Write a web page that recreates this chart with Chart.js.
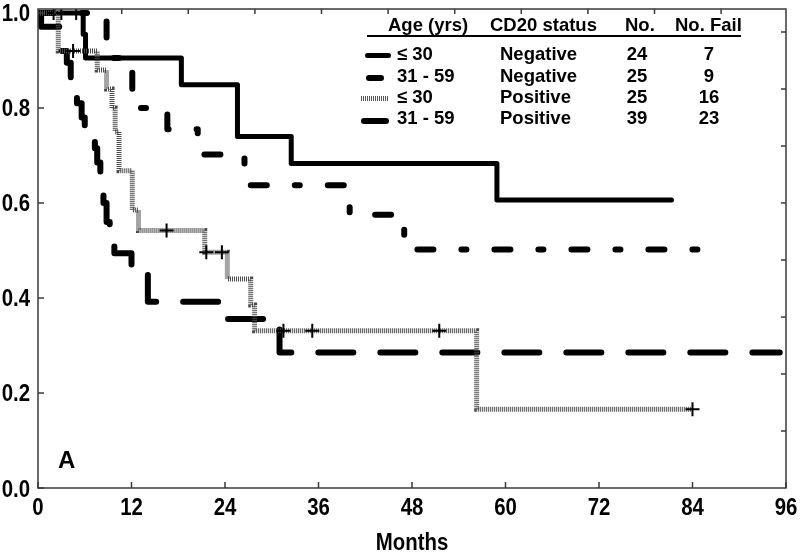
<!DOCTYPE html>
<html><head><meta charset="utf-8">
<script src="https://cdn.jsdelivr.net/npm/chart.js@4"></script>
<style>
html,body{margin:0;padding:0;background:#fff;}
#wrap{position:relative;width:800px;height:553px;overflow:hidden;background:#fff;}
canvas{position:absolute;left:0;top:0;}
.t{position:absolute;font-family:'Liberation Sans',Arial,sans-serif;font-weight:bold;font-size:18.5px;line-height:18.5px;color:#000;white-space:nowrap;}
.c{text-align:center;}
.ln{position:absolute;}
.ax{position:absolute;font-family:'Liberation Sans',Arial,sans-serif;font-weight:bold;font-size:24px;line-height:24px;color:#000;white-space:nowrap;transform:scaleX(0.85);transform-origin:50% 50%;}
</style></head><body>
<div id="wrap"><canvas id="c" width="800" height="553"></canvas><div id="overlay"></div></div>
<script>
// ---- data ----
const xTicks = [0, 12, 24, 36, 48, 60, 72, 84, 96];
const yTicks = [0, 0.2, 0.4, 0.6, 0.8, 1.0];

// Age <=30, CD20 negative (solid)
const s1Months = [0, 5.8, 6.1, 18.4, 25.6, 32.5, 58.9, 81.3];
const s1Surv   = [1, 0.955, 0.905, 0.849, 0.740, 0.683, 0.606, 0.606];

// Age 31-59, CD20 negative (long-short dash)
const s2Months = [0, 8.8, 12.1, 16.6, 20.5, 26.5, 40.0, 47.0, 86.0];
const s2Surv   = [1, 0.905, 0.800, 0.755, 0.702, 0.6375, 0.575, 0.502, 0.502];

// Age <=30, CD20 positive (gray hatched)
const s3Months = [0, 2.6, 7.6, 8.8, 9.5, 9.9, 10.4, 12.1, 12.9, 21.4, 24.3, 27.3, 27.8, 56.3, 84.0];
const s3Surv   = [1, 0.92, 0.88, 0.84, 0.80, 0.75, 0.668, 0.585, 0.542, 0.496, 0.44, 0.385, 0.331, 0.166, 0.166];
const s3CensorMonths = [2.0, 3.0, 4.9, 4.5, 16.5, 21.6, 23.6, 31.5, 35.2, 51.5, 84.0];
const s3CensorSurv   = [1, 1, 1, 0.92, 0.542, 0.496, 0.496, 0.331, 0.331, 0.331, 0.166];

// Age 31-59, CD20 positive (long dash)
const s4Months = [0, 0.4, 3.0, 3.7, 4.2, 5.0, 5.6, 6.0, 7.3, 7.6, 8.0, 8.4, 8.8, 9.2, 9.8, 12.0, 14.1, 24.0, 31.0, 95.2];
const s4Surv   = [1, 0.971, 0.92, 0.895, 0.855, 0.81, 0.78, 0.74, 0.715, 0.685, 0.645, 0.60, 0.56, 0.515, 0.494, 0.46, 0.392, 0.356, 0.285, 0.285];

// legend table
const ageGroups  = ['≤ 30', '31 - 59', '≤ 30', '31 - 59'];
const cd20Status = ['Negative', 'Negative', 'Positive', 'Positive'];
const nPatients  = [24, 25, 25, 39];
const nFail      = [7, 9, 16, 23];
const headers    = ['Age (yrs)', 'CD20 status', 'No.', 'No. Fail'];

const pts = (ms, ss) => ms.map((m, i) => ({x: m, y: ss[i]}));

// ---- overlay text (legend table, panel letter, axis title) ----
const ov = document.getElementById('overlay');
function add(html){ ov.insertAdjacentHTML('beforeend', html); }
const rowBase = [61, 82.5, 103.5, 125];
const tp = b => (b - 15.7).toFixed(1);
add(`<div class="t" style="left:388px;top:${tp(32)}px">${headers[0]}</div>`);
add(`<div class="t" style="left:490px;top:${tp(32)}px">${headers[1]}</div>`);
add(`<div class="t" style="left:625px;top:${tp(32)}px">${headers[2]}</div>`);
add(`<div class="t" style="left:675px;top:${tp(32)}px">${headers[3]}</div>`);
add(`<div class="ln" style="left:367px;top:35px;width:374px;height:2px;background:#000"></div>`);
const sampleStyles = [
  'left:365px;width:26px;height:5px;background:#000;border-radius:3px;',
  'left:366px;width:18px;height:6px;background:#000;border-radius:3px;',
  'left:361px;width:28px;height:5px;background:repeating-linear-gradient(90deg,#555 0 1px,#fff 1px 2px);',
  'left:361px;width:28px;height:6px;background:#000;border-radius:3px;'
];
const sampleY = [55, 77, 98, 120];
for (let i = 0; i < 4; i++) {
  const b = rowBase[i];
  add(`<div class="ln" style="${sampleStyles[i]}top:${(sampleY[i]-2.5).toFixed(1)}px"></div>`);
  add(`<div class="t" style="left:397px;top:${tp(b)}px">${ageGroups[i]}</div>`);
  add(`<div class="t" style="left:500px;top:${tp(b)}px">${cd20Status[i]}</div>`);
  add(`<div class="t c" style="left:612px;width:50px;top:${tp(b)}px">${nPatients[i]}</div>`);
  add(`<div class="t c" style="left:684px;width:50px;top:${tp(b)}px">${nFail[i]}</div>`);
}
add(`<div class="t" style="left:58px;top:${(470-21.7).toFixed(1)}px;font-size:24px;line-height:24px">A</div>`);
add(`<div class="ax" style="left:312px;width:200px;text-align:center;top:${(550-20.3).toFixed(1)}px">Months</div>`);

// ---- chart ----
const labelFont = "bold 24px 'Liberation Sans', Arial, sans-serif";

const framePlugin = {
  id: 'frame',
  afterDraw(chart) {
    const {ctx, chartArea: a, scales: {x, y}} = chart;
    ctx.save();
    ctx.strokeStyle = '#3a3a3a';
    ctx.lineWidth = 1.5;
    ctx.strokeRect(a.left, a.top, a.right - a.left, a.bottom - a.top);
    ctx.beginPath();
    x.ticks.forEach(t => { const px = x.getPixelForValue(t.value); ctx.moveTo(px, a.bottom); ctx.lineTo(px, a.bottom - 6); });
    y.ticks.forEach(t => { const py = y.getPixelForValue(t.value); ctx.moveTo(a.left, py); ctx.lineTo(a.left + 6, py); });
    for (let k = -1; k <= 9; k++) { const px = a.left + 83.7 + 66.6 * k; ctx.moveTo(px, a.top); ctx.lineTo(px, a.top + 5); }
    for (let k = 1; k <= 8; k++) { const py = a.bottom - 57 * k; ctx.moveTo(a.right, py); ctx.lineTo(a.right - 5, py); }
    ctx.stroke();
    // narrow bold tick labels, placed from the scales' own ticks
    ctx.fillStyle = '#000';
    ctx.font = labelFont;
    ctx.textBaseline = 'alphabetic';
    x.ticks.forEach(t => {
      const px = x.getPixelForValue(t.value);
      ctx.save(); ctx.translate(px, a.bottom + 27); ctx.scale(0.85, 1);
      ctx.textAlign = 'center'; ctx.fillText(String(t.label), 0, 0); ctx.restore();
    });
    y.ticks.forEach(t => {
      const py = y.getPixelForValue(t.value);
      ctx.save(); ctx.translate(a.left - 8, py + 8.5); ctx.scale(0.85, 1);
      ctx.textAlign = 'right'; ctx.fillText(String(t.label), 0, 0); ctx.restore();
    });
    ctx.restore();
  }
};

new Chart(document.getElementById('c'), {
  type: 'line',
  data: {
    datasets: [
      { label: 'censor', data: pts(s3CensorMonths, s3CensorSurv), showLine: false,
        pointStyle: 'cross', pointRadius: 7, pointBorderWidth: 2, pointBorderColor: '#000', pointBackgroundColor: '#000' },
      { label: '≤30 Positive', data: pts(s3Months, s3Surv), stepped: true, borderColor: '#4a4a4a', borderWidth: 5,
        borderDash: [1, 1], borderCapStyle: 'butt', borderJoinStyle: 'miter', pointRadius: 0, fill: false },
      { label: '≤30 Negative', data: pts(s1Months, s1Surv), stepped: true, borderColor: '#000', borderWidth: 5,
        borderCapStyle: 'round', borderJoinStyle: 'round', pointRadius: 0, fill: false },
      { label: '31-59 Negative', data: pts(s2Months, s2Surv), stepped: true, borderColor: '#000', borderWidth: 6,
        borderDash: [16, 28, 5, 28], borderCapStyle: 'round', borderJoinStyle: 'round', pointRadius: 0, fill: false },
      { label: '31-59 Positive', data: pts(s4Months, s4Surv), stepped: true, borderColor: '#000', borderWidth: 6,
        borderDash: [35, 27], borderCapStyle: 'round', borderJoinStyle: 'round', pointRadius: 0, fill: false }
    ]
  },
  options: {
    responsive: false, animation: false, devicePixelRatio: 1,
    layout: {padding: {left: 0, right: 14, top: 4, bottom: 0}},
    plugins: {legend: {display: false}, tooltip: {enabled: false}},
    scales: {
      x: { type: 'linear', min: 0, max: 96,
        grid: {display: false}, border: {display: false},
        ticks: {display: false, stepSize: 12},
        afterBuildTicks: s => { s.ticks = xTicks.map(v => ({value: v})); },
        afterFit: s => { s.height = 65; } },
      y: { type: 'linear', min: 0, max: 1.0083,
        grid: {display: false}, border: {display: false},
        ticks: {display: false, callback: v => Number(v).toFixed(1)},
        afterBuildTicks: s => { s.ticks = yTicks.map(v => ({value: v})); },
        afterFit: s => { s.width = 38; } }
    }
  },
  plugins: [framePlugin]
});
</script>
</body></html>
